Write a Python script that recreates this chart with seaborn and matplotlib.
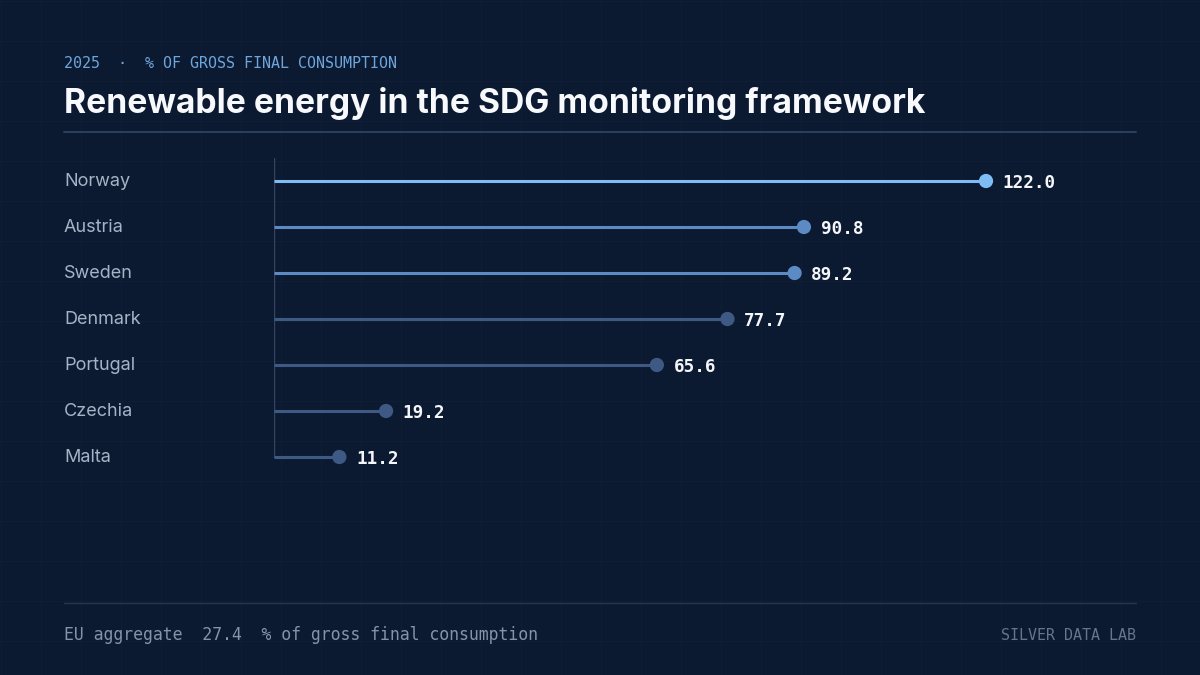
import matplotlib
matplotlib.use("Agg")
import matplotlib.pyplot as plt
import matplotlib.transforms as mtransforms
from matplotlib.lines import Line2D
import seaborn as sns
import pandas as pd

countries = ["Norway", "Austria", "Sweden", "Denmark", "Portugal", "Czechia", "Malta"]
values = [122.0, 90.8, 89.2, 77.7, 65.6, 19.2, 11.2]
tiers = ["top", "high", "high", "mid", "mid", "mid", "mid"]
eu_value = 27.4

BG = "#0c1a31"
GRID = "#111f36"
palette = {"top": "#7dbdf4", "high": "#5b8ac4", "mid": "#3e5a84"}
MONO = "DejaVu Sans Mono"
SANS = "Inter"

sns.set_theme(style="white")
plt.rcParams["font.family"] = [SANS, "DejaVu Sans"]

W, H = 1200, 675
fig = plt.figure(figsize=(12, 6.75), dpi=100, facecolor=BG)

# faint background grid
for gx in range(1, W, 40):
    fig.add_artist(Line2D([gx / W, gx / W], [0, 1], color=GRID, lw=0.7, zorder=0))
for gy in range(1, H, 40):
    fig.add_artist(Line2D([0, 1], [1 - gy / H, 1 - gy / H], color=GRID, lw=0.7, zorder=0))

def fx(px):
    return px / W

def fy(py):
    return 1 - py / H

ax_left, ax_right, ax_top, ax_bottom = 274, 1136, 158, 480
ax = fig.add_axes([fx(ax_left), fy(ax_bottom), fx(ax_right - ax_left), (ax_bottom - ax_top) / H])
ax.set_facecolor("none")

df = pd.DataFrame({"country": countries, "value": values, "tier": tiers})
df["pos"] = range(len(df))

for _, r in df.iterrows():
    ax.plot([0, r["value"]], [r["pos"], r["pos"]], color=palette[r["tier"]],
            lw=2.2, solid_capstyle="butt", zorder=2)

sns.scatterplot(data=df, x="value", y="pos", hue="tier", palette=palette,
                s=105, edgecolor="none", legend=False, ax=ax, zorder=3)

ax.plot([0, 0], [-0.5, len(df) - 1], color="#33455f", lw=1.0, zorder=1)

ax.set_xlim(0, 147.7)
ax.set_ylim(len(df) - 0.5, -0.5)
ax.set_xlabel("")
ax.set_ylabel("")
ax.set_xticks([])
ax.set_yticks([])
for s in ax.spines.values():
    s.set_visible(False)

for _, r in df.iterrows():
    ax.annotate(f"{r['value']:.1f}", xy=(r["value"], r["pos"]), xytext=(12, -1.5),
                textcoords="offset points", va="center", ha="left",
                fontsize=12.7, fontweight="bold", family=MONO, color="#f4f6fa")

blend = mtransforms.blended_transform_factory(fig.transFigure, ax.transData)
for _, r in df.iterrows():
    ax.text(fx(64), r["pos"], r["country"], transform=blend, ha="left", va="center",
            fontsize=13, color="#a6b2c5", family=[SANS, "DejaVu Sans"])

# header
fig.text(fx(64), fy(63), "2025  \u00b7  % OF GROSS FINAL CONSUMPTION", ha="left", va="center",
         fontsize=10.8, family=MONO, color="#6ea6dc")
fig.text(fx(64), fy(103), "Renewable energy in the SDG monitoring framework", ha="left", va="center",
         fontsize=24.2, fontweight="bold", color="#f7f9fc", family=[SANS, "DejaVu Sans"])
fig.add_artist(Line2D([fx(64), fx(1136)], [fy(132), fy(132)], color="#2b3e5e", lw=1.5))

# footer
fig.add_artist(Line2D([fx(64), fx(1136)], [fy(603), fy(603)], color="#253652", lw=1.0))
fig.text(fx(64), fy(635), f"EU aggregate  {eu_value:.1f}  % of gross final consumption", ha="left",
         va="center", fontsize=11.9, family=MONO, color="#8593a8")
fig.text(fx(1136), fy(635), "SILVER DATA LAB", ha="right", va="center",
         fontsize=10.8, family=MONO, color="#66758e")

fig.savefig("out.png", dpi=100, facecolor=BG)
